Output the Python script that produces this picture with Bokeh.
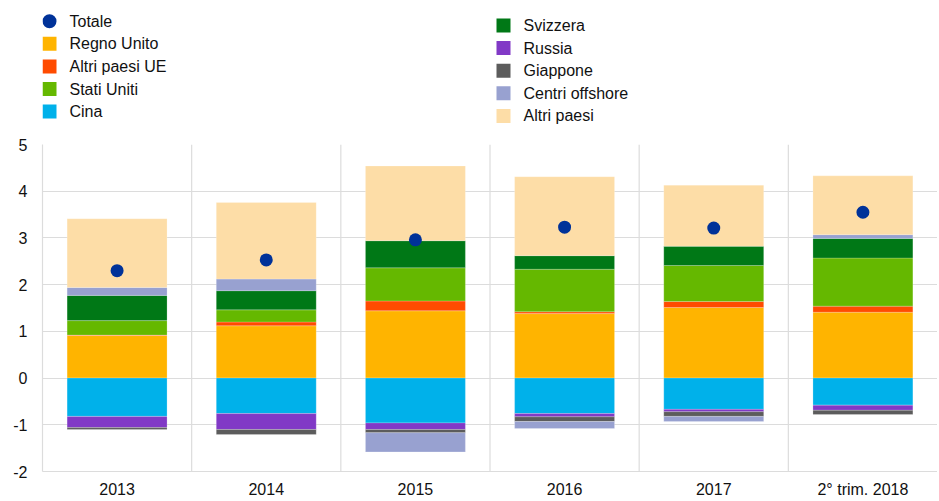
import numpy as np
from bokeh.plotting import figure
from bokeh.models import Range1d, FactorRange, Span, FixedTicker, ColumnDataSource
from bokeh.layouts import column
from bokeh.core.properties import value
from bokeh.embed import file_html
from bokeh.resources import INLINE

# ---------------- data ----------------
categories = ["2013", "2014", "2015", "2016", "2017", "2° trim. 2018"]

regno_unito     = [0.91, 1.12, 1.44, 1.38, 1.51, 1.41]
altri_paesi_ue  = [0.01, 0.08, 0.21, 0.04, 0.13, 0.13]
stati_uniti     = [0.31, 0.26, 0.71, 0.91, 0.77, 1.03]
cina            = [-0.82, -0.76, -0.96, -0.76, -0.67, -0.58]
svizzera        = [0.54, 0.41, 0.58, 0.29, 0.41, 0.42]
russia          = [-0.24, -0.34, -0.14, -0.07, -0.05, -0.11]
giappone        = [-0.04, -0.11, -0.07, -0.10, -0.10, -0.09]
centri_offshore = [0.17, 0.25, -0.41, -0.15, -0.11, 0.08]
altri_paesi     = [1.47, 1.64, 1.60, 1.69, 1.31, 1.26]
totale          = [2.30, 2.53, 2.96, 3.23, 3.21, 3.55]

series_names = ["Regno Unito", "Altri paesi UE", "Stati Uniti", "Cina", "Svizzera",
                "Russia", "Giappone", "Centri offshore", "Altri paesi"]
series_values = [regno_unito, altri_paesi_ue, stati_uniti, cina, svizzera,
                 russia, giappone, centri_offshore, altri_paesi]
series_colors = ["#FFB400", "#FF4B00", "#65B800", "#00B1EA", "#007816",
                 "#8139C6", "#5C5C5C", "#98A1D0", "#FDDDA7"]
totale_color = "#003299"

y_ticks = [-2, -1, 0, 1, 2, 3, 4, 5]
y_tick_labels = ["-2", "-1", "0", "1", "2", "3", "4", "5"]

FONT = value("Liberation Sans")
GRID = "#dcdcdc"
TXT = "#111111"

W = 937
LEFT = 42          # y-axis panel width of the main plot (frame left edge)

# ---------------- legend figure (x/y in page pixels) ----------------
LH = 136
leg = figure(width=W, height=LH, x_range=Range1d(LEFT, W), y_range=Range1d(LH, 0),
             output_backend="svg", toolbar_location=None, min_border=0,
             min_border_left=LEFT, x_axis_location=None, y_axis_location=None)
leg.grid.visible = False
leg.outline_line_color = None

col1 = ["Totale", "Regno Unito", "Altri paesi UE", "Stati Uniti", "Cina"]
col2 = ["Svizzera", "Russia", "Giappone", "Centri offshore", "Altri paesi"]
color_of = dict(zip(series_names, series_colors))
color_of["Totale"] = totale_color
pitch = 22.6
for labels, mx, tx, y0 in [(col1, 49, 69, 20.7), (col2, 503, 523, 25.0)]:
    ys = [y0 + i * pitch for i in range(len(labels))]
    for lab, yy in zip(labels, ys):
        marker = "circle" if lab == "Totale" else "square"
        leg.scatter(x=[mx], y=[yy], marker=marker, size=14, fill_color=color_of[lab],
                    line_color=None)
    leg.text(x=[tx] * len(labels), y=ys, text=labels, text_font=FONT,
             text_font_size="16px", text_baseline="middle", text_align="left",
             text_color=TXT)

# ---------------- main figure ----------------
p = figure(width=W, height=364, x_range=FactorRange(*categories, range_padding=0),
           y_range=Range1d(-2, 5), output_backend="svg", toolbar_location=None,
           min_border_left=LEFT, min_border_right=0, min_border_top=8, min_border_bottom=27)
p.outline_line_color = None
p.background_fill_color = "white"

# signed stacking
vals = np.array(series_values, dtype=float)
pos_acc = np.zeros(len(categories))
neg_acc = np.zeros(len(categories))
for name, v, c in zip(series_names, vals, series_colors):
    bottom = np.where(v >= 0, pos_acc, neg_acc)
    top = bottom + v
    pos_acc = np.where(v >= 0, top, pos_acc)
    neg_acc = np.where(v < 0, top, neg_acc)
    src = ColumnDataSource(dict(x=categories, bottom=bottom, top=top))
    p.vbar(x="x", bottom="bottom", top="top", width=0.67, source=src,
           fill_color=c, line_color="white", line_width=0.6, line_alpha=0.35)

p.scatter(x=categories, y=totale, size=13, fill_color=totale_color, line_color=None)

# grids
p.xgrid.visible = False
p.ygrid.ticker = FixedTicker(ticks=y_ticks)
p.ygrid.grid_line_color = GRID
p.ygrid.grid_line_width = 1.2
for i in range(1, len(categories)):
    p.add_layout(Span(location=i, dimension="height", line_color=GRID, line_width=1.2))

# axes
p.yaxis.ticker = FixedTicker(ticks=y_ticks)
p.yaxis.major_label_overrides = {t: s for t, s in zip(y_ticks, y_tick_labels)}
p.yaxis.major_tick_line_color = None
p.yaxis.minor_tick_line_color = None
p.yaxis.major_tick_out = 0
p.yaxis.major_tick_in = 0
p.yaxis.axis_line_color = GRID
p.yaxis.axis_line_width = 1.2
p.yaxis.major_label_standoff = 15
p.yaxis.major_label_text_font = "Liberation Sans"
p.yaxis.major_label_text_font_size = "16px"
p.yaxis.major_label_text_color = TXT

p.xaxis.major_tick_line_color = None
p.xaxis.major_tick_out = 0
p.xaxis.major_tick_in = 0
p.xaxis.axis_line_color = GRID
p.xaxis.axis_line_width = 1.2
p.xaxis.major_label_standoff = 9
p.xaxis.major_label_text_font = "Liberation Sans"
p.xaxis.major_label_text_font_size = "16px"
p.xaxis.major_label_text_color = TXT

layout = column(leg, p, spacing=0)
open("out.html", "w").write(file_html(layout, INLINE))
